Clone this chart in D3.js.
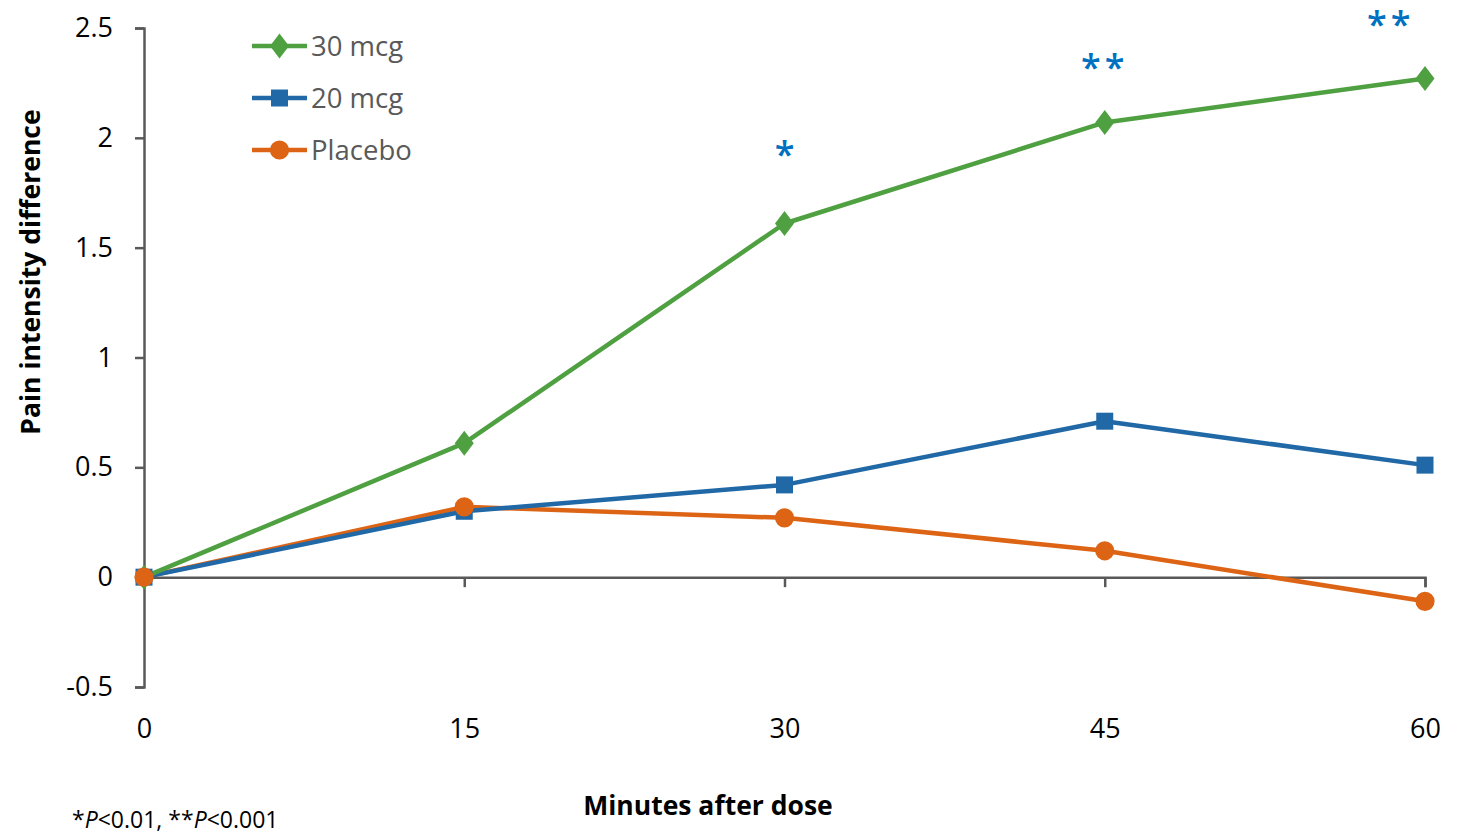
<!DOCTYPE html>
<html><head><meta charset="utf-8">
<script src="https://cdn.jsdelivr.net/npm/d3@7"></script>
<style>body{margin:0;background:#fff;} text{font-family:"Open Sans","Noto Sans",sans-serif;}</style>
</head><body>
<svg id="chart" width="1457" height="835"></svg>
<script>
const minutes = [0, 15, 30, 45, 60];
const xTicks = [0, 15, 30, 45, 60];
const yTicks = [-0.5, 0, 0.5, 1, 1.5, 2, 2.5];
const seriesNames = ["30 mcg", "20 mcg", "Placebo"];
const values30 = [0, 0.61, 1.61, 2.07, 2.27];
const values20 = [0, 0.30, 0.42, 0.71, 0.51];
const valuesPlacebo = [0, 0.32, 0.27, 0.12, -0.11];
const annotMinutes = [30.1, 45.0, 58.4];
const annotLevels = [1.865, 2.265, 2.46];
const annotLabels = ["*", "**", "**"];

const colors = ["#4EA040", "#2068A6", "#DC6414"];
const shapes = ["diamond", "square", "circle"];
const allValues = [values30, values20, valuesPlacebo];

const svg = d3.select("#chart");
const x = d3.scaleLinear().domain([0, 60]).range([144, 1425]);
const y = d3.scaleLinear().domain([-0.5, 2.5]).range([687, 28]);
const axisColor = "#595959";

// y axis
const yAxis = svg.append("g").attr("transform", `translate(${x(0)},0)`)
  .call(d3.axisLeft(y).tickValues(yTicks).tickSize(9).tickPadding(22).tickFormat(d => String(d)));
yAxis.select(".domain").attr("stroke", axisColor).attr("stroke-width", 2.5);
yAxis.selectAll(".tick line").attr("stroke", axisColor).attr("stroke-width", 2.5);
yAxis.selectAll(".tick text").attr("font-size", 27).attr("fill", "#000").attr("font-family", "Open Sans");

// x axis at y=0
const xAxis = svg.append("g").attr("transform", `translate(0,${y(0)})`)
  .call(d3.axisBottom(x).tickValues(xTicks).tickSize(10).tickPadding(0).tickFormat(d => String(d)));
xAxis.select(".domain").attr("stroke", axisColor).attr("stroke-width", 2.5);
xAxis.selectAll(".tick line").attr("stroke", axisColor).attr("stroke-width", 2.5);
xAxis.selectAll(".tick line").filter(d => d === 0).remove();
xAxis.selectAll(".tick text").attr("font-size", 27).attr("fill", "#000")
  .attr("font-family", "Open Sans").attr("dy", "0.35em").attr("y", y(-0.5) - y(0) + 42);

// marker shapes
function markerPath(s) {
  if (s === "diamond") return "M0,-12.5L9.5,0L0,12.5L-9.5,0Z";
  if (s === "square") return "M-8.5,-8.5H8.5V8.5H-8.5Z";
  return d3.symbol().type(d3.symbolCircle).size(290)();
}

const line = d3.line().x((d, i) => x(minutes[i])).y(d => y(d));
[2, 1, 0].forEach(k => {
  svg.append("path").datum(allValues[k]).attr("d", line).attr("fill", "none")
    .attr("stroke", colors[k]).attr("stroke-width", 4.5).attr("stroke-linejoin", "round");
});
[0, 1, 2].forEach(k => {
  svg.append("g").selectAll("path").data(allValues[k]).join("path")
    .attr("transform", (d, i) => `translate(${x(minutes[i])},${y(d)})`)
    .attr("d", markerPath(shapes[k]))
    .attr("fill", colors[k]);
});

// significance annotations
svg.append("g").selectAll("text").data(annotLabels).join("text")
  .attr("x", (d, i) => x(annotMinutes[i])).attr("y", (d, i) => y(annotLevels[i]))
  .attr("text-anchor", "middle").attr("font-size", 36).attr("font-weight", 600)
  .attr("letter-spacing", 4).attr("fill", "#0070C0").text(d => d);

// legend
const legend = svg.append("g");
seriesNames.forEach((name, k) => {
  const ly = 46 + k * 52;
  legend.append("line").attr("x1", 252).attr("x2", 307).attr("y1", ly).attr("y2", ly)
    .attr("stroke", colors[k]).attr("stroke-width", 4.5);
  legend.append("path").attr("transform", `translate(279.5,${ly})`)
    .attr("d", markerPath(shapes[k])).attr("fill", colors[k]);
  legend.append("text").attr("x", 311).attr("y", ly + 10).attr("font-size", 27.5)
    .attr("fill", "#595959").text(name);
});

// axis titles
svg.append("text").attr("transform", "translate(40,272) rotate(-90)")
  .attr("text-anchor", "middle").attr("font-size", 26.5).attr("font-weight", "bold").text("Pain intensity difference");
svg.append("text").attr("x", 708).attr("y", 815).attr("text-anchor", "middle")
  .attr("font-size", 26.5).attr("font-weight", "bold").text("Minutes after dose");

// footnote
const fn = svg.append("text").attr("x", 72).attr("y", 828).attr("font-size", 23).attr("fill", "#000");
fn.append("tspan").text("*");
fn.append("tspan").attr("font-style", "italic").text("P");
fn.append("tspan").text("<0.01, **");
fn.append("tspan").attr("font-style", "italic").text("P");
fn.append("tspan").text("<0.001");
</script>
</body></html>
